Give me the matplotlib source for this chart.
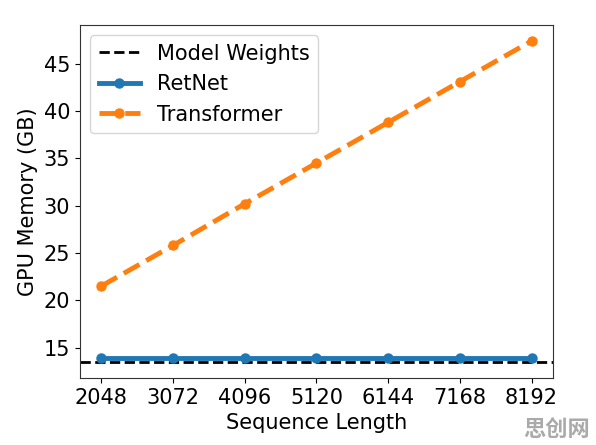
import numpy as np
import matplotlib.pyplot as plt

seq_len = [2048, 3072, 4096, 5120, 6144, 7168, 8192]
retnet = [13.9, 13.9, 13.9, 13.9, 13.9, 13.9, 13.9]
transformer = [21.5, 25.8, 30.2, 34.5, 38.8, 43.1, 47.4]
model_weights = 13.5

fig, ax = plt.subplots(figsize=(5.96, 4.45), dpi=100)
ax.axhline(model_weights, color='black', linestyle='--', lw=2, label='Model Weights')
ax.plot(seq_len, retnet, color='#1f77b4', marker='o', lw=3.5, markersize=6.5, label='RetNet')
ax.plot(seq_len, transformer, color='#ff7f0e', marker='o', linestyle='--', lw=3.5,
        markersize=6.5, label='Transformer')

ax.set_xticks(seq_len)
ax.set_xticklabels([str(s) for s in seq_len], fontsize=15)
ax.tick_params(axis='y', labelsize=15)
ax.set_xlabel('Sequence Length', fontsize=15)
ax.set_ylabel('GPU Memory (GB)', fontsize=15)
ax.legend(fontsize=15, loc='upper left')
for sp in ax.spines.values():
    sp.set_color('#333333')

fig.subplots_adjust(left=0.134, right=0.928, top=0.944, bottom=0.151)
fig.text(0.99, 0.01, '思创网', fontsize=16, color='#aaaaaa', ha='right', va='bottom',
         family=['Noto Sans CJK SC', 'DejaVu Sans'], fontweight='bold')
fig.savefig('out.png', dpi=100)
